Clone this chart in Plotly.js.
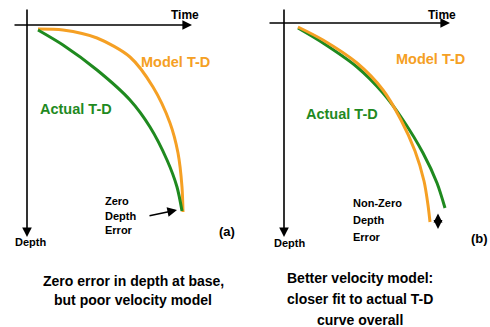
<!DOCTYPE html>
<html>
<head>
<meta charset="utf-8">
<script src="https://cdn.plot.ly/plotly-3.0.1.min.js"></script>
<style>html,body{margin:0;padding:0;background:#fff;}#chart{width:490px;height:327px;}</style>
</head>
<body>
<div id="chart"></div>
<script>
// Panel (a): zero depth error at base, poor velocity model
const actualTimeA = [11, 36, 70, 103, 123, 140, 150, 155];
const actualDepthA = [5, 20, 45, 75, 102, 135, 162, 186];
const modelTimeA = [11, 36, 70, 103, 126, 143, 151, 155, 156];
const modelDepthA = [4, 5, 13, 32, 62, 98, 128, 162, 187];
// Panel (b): better velocity model, non-zero depth error
const actualTimeB = [14, 39, 73, 99, 119, 139, 153, 161];
const actualDepthB = [5, 20, 44, 70, 97, 130, 160, 185];
const modelTimeB = [14, 39, 73, 99, 117, 131, 140, 144, 146];
const modelDepthB = [4, 17, 40, 67, 97, 128, 158, 182, 199];

const GREEN = '#1f8a1f';
const ORANGE = '#f5a024';
const FONT = 'Liberation Sans, Arial, sans-serif';

const lineStyle = c => ({color: c, width: 3, shape: 'spline', smoothing: 0.8});
const traces = [
  {x: modelTimeA, y: modelDepthA, xaxis: 'x', yaxis: 'y', mode: 'lines', line: lineStyle(ORANGE), hoverinfo: 'skip'},
  {x: actualTimeA, y: actualDepthA, xaxis: 'x', yaxis: 'y', mode: 'lines', line: lineStyle(GREEN), hoverinfo: 'skip'},
  {x: actualTimeB, y: actualDepthB, xaxis: 'x2', yaxis: 'y2', mode: 'lines', line: lineStyle(GREEN), hoverinfo: 'skip'},
  {x: modelTimeB, y: modelDepthB, xaxis: 'x2', yaxis: 'y2', mode: 'lines', line: lineStyle(ORANGE), hoverinfo: 'skip'}
];

const hidden = {showgrid: false, zeroline: false, showticklabels: false, ticks: '', showline: false, fixedrange: true};

function arrow(xr, yr, x, y, ax, ay, opts) {
  return Object.assign({xref: xr, yref: yr, axref: xr, ayref: yr, x: x, y: y, ax: ax, ay: ay, text: '', showarrow: true,
          arrowhead: 2, arrowsize: 1.2, arrowwidth: 1.6, arrowcolor: '#000', arrowside: 'end', standoff: 0, startstandoff: 0}, opts || {});
}
function txt(x, y, text, size, color, xanchor) {
  return {xref: 'paper', yref: 'paper', x: x / 490, y: 1 - y / 327, text: text, showarrow: false,
          font: {family: FONT, size: size, color: color}, xanchor: xanchor || 'center', yanchor: 'middle'};
}

const annotations = [
  // axes panel (a)
  arrow('x', 'y', 0, 212, 0, -17),
  arrow('x', 'y', 165, 0, -14, 0),
  // axes panel (b)
  arrow('x2', 'y2', 0, 214, 0, -15),
  arrow('x2', 'y2', 166, 0, -16, 0),
  txt(185, 15, '<b>Time</b>', 12, '#000'),
  txt(30, 242, '<b>Depth</b>', 11, '#000'),
  txt(442, 15, '<b>Time</b>', 12, '#000'),
  txt(289, 243, '<b>Depth</b>', 11, '#000'),
  txt(175, 62, '<b>Model T-D</b>', 14.5, ORANGE),
  txt(76, 109, '<b>Actual T-D</b>', 14.5, GREEN),
  txt(430, 59, '<b>Model T-D</b>', 14.5, ORANGE),
  txt(342, 114, '<b>Actual T-D</b>', 14.5, GREEN),
  // zero depth error note
  txt(103, 201, '<b>Zero</b>', 11, '#000', 'left'),
  txt(103, 216, '<b>Depth</b>', 11, '#000', 'left'),
  txt(103, 230, '<b>Error</b>', 11, '#000', 'left'),
  arrow('x', 'y', 150, 185, 121, 191),
  txt(227, 231, '<b>(a)</b>', 13, '#000'),
  // non-zero depth error note
  txt(351, 203, '<b>Non-Zero</b>', 11, '#000', 'left'),
  txt(351, 220, '<b>Depth</b>', 11, '#000', 'left'),
  txt(351, 237, '<b>Error</b>', 11, '#000', 'left'),
  arrow('x2', 'y2', 154, 206, 154, 189, {arrowside: 'end+start', arrowhead: 2, arrowsize: 0.9, arrowwidth: 2}),
  txt(490, 238, '<b>(b)</b>', 13, '#000', 'right'),
  // captions
  txt(133, 281, '<b>Zero error in depth at base,</b>', 14, '#000'),
  txt(133, 300, '<b>but poor velocity model</b>', 14, '#000'),
  txt(360, 278, '<b>Better velocity model:</b>', 14, '#000'),
  txt(360, 299, '<b>closer fit to actual T-D</b>', 14, '#000'),
  txt(360, 320, '<b>curve overall</b>', 14, '#000')
];

const layout = {
  width: 490, height: 327,
  margin: {l: 0, r: 0, t: 0, b: 0, pad: 0},
  paper_bgcolor: '#fff', plot_bgcolor: 'rgba(0,0,0,0)',
  showlegend: false,
  xaxis: Object.assign({domain: [0, 0.5], range: [-27, 218]}, hidden),
  yaxis: Object.assign({domain: [0, 1], range: [302, -25]}, hidden),
  xaxis2: Object.assign({domain: [0.5, 1], range: [-39, 206], anchor: 'y2'}, hidden),
  yaxis2: Object.assign({domain: [0, 1], range: [304, -23], anchor: 'x2'}, hidden),
  annotations: annotations
};

Plotly.newPlot('chart', traces, layout, {displayModeBar: false, staticPlot: true});
</script>
</body>
</html>
